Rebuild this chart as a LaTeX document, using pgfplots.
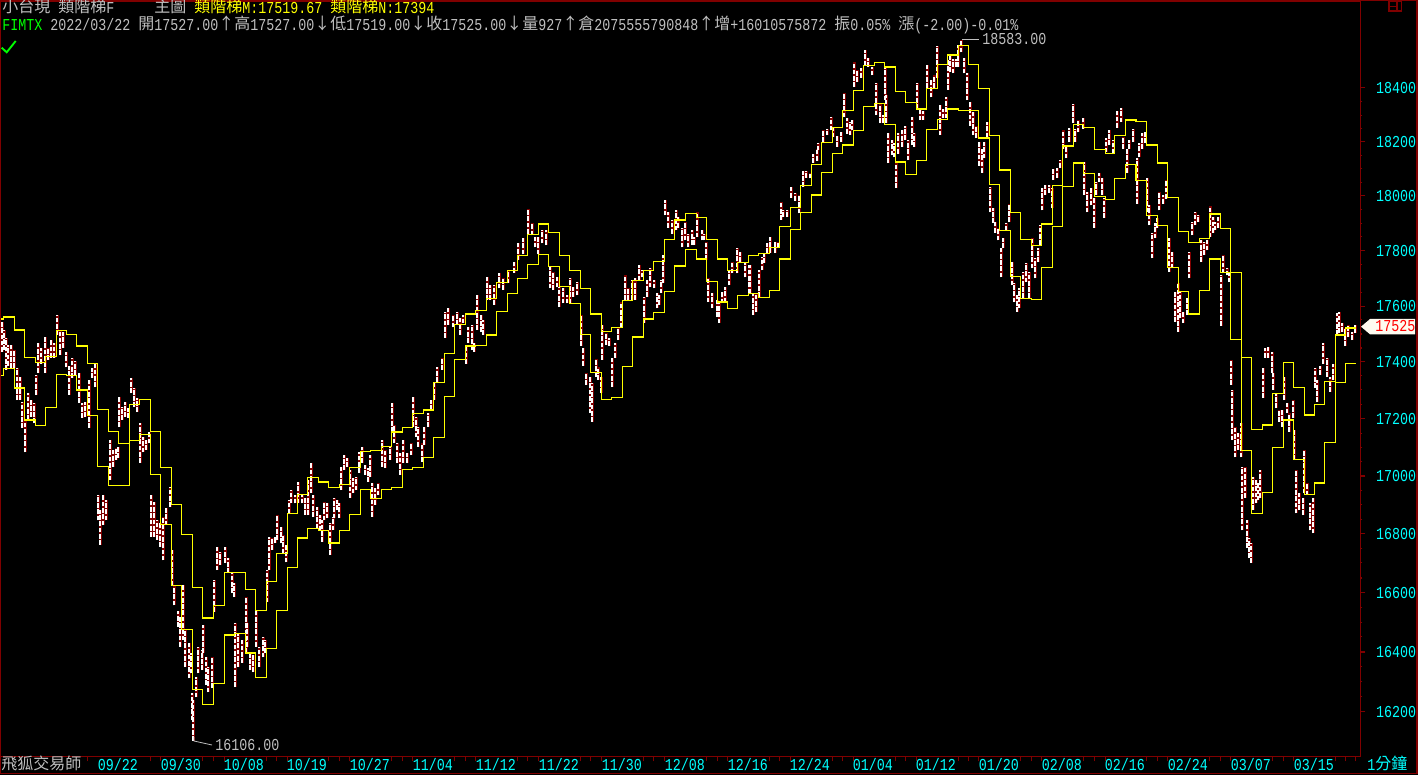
\documentclass[border=0pt]{standalone}
\usepackage{fontspec}
\usepackage{pgfplots}
\usepackage{pgfplotstable}
\pgfplotsset{compat=1.18}
\newfontfamily\pxmono[FakeStretch=0.8]{Liberation Mono}
\newfontfamily\cjk{Noto Sans CJK TC}
\definecolor{dkred}{RGB}{128,0,0}
\definecolor{txtgray}{RGB}{192,192,192}
\definecolor{tagfill}{RGB}{255,251,240}
\definecolor{cyan}{RGB}{0,255,255}
\definecolor{yellow}{RGB}{255,255,0}
\definecolor{green}{RGB}{0,255,0}
\definecolor{red}{RGB}{255,0,0}
\newcommand{\latinfont}{\pxmono\fontsize{12.5pt}{13pt}\selectfont}
\newcommand{\cjkfont}{\cjk\fontsize{12pt}{13pt}\selectfont}

% stair lines: x position, M, N
\pgfplotstableread{
x m n
1 17552 17352
3.5 17559 17377
14.5 17516 17307
24.5 17416 17194
35.5 17398 17176
45.5 17419 17239
56.5 17512 17356
66.5 17498 17352
76.5 17456 17300
87.5 17394 17211
97.5 17232 17033
108.5 17155 16967
118.5 17113 16967
129.5 17250 17124
139.5 17267 17145
150.5 17155 17005
160.3 17029 16832
171.3 16901 16624
181.7 16798 16476
192.3 16617 16275
202.3 16513 16225
213.3 16556 16295
224.3 16668 16456
234.3 16668 16462
245.3 16610 16395
255.7 16540 16315
266.3 16638 16412
276.3 16733 16540
287.3 16870 16685
297.3 16936 16785
307.3 16994 16819
318.3 16980 16812
328.3 16960 16768
339.3 16970 16812
349.3 17029 16867
360.3 17085 16953
370.3 17089 16922
381.3 17103 16953
391.3 17152 16960
402.3 17169 17022
412.3 17218 17029
423.3 17229 17064
433.3 17328 17134
444.3 17430 17278
454.3 17534 17408
465.3 17570 17456
475.3 17584 17459
486.3 17627 17495
496.3 17685 17580
507.3 17728 17645
517.3 17782 17699
527.3 17859 17749
538.3 17899 17786
548.3 17866 17742
559.3 17782 17670
569.3 17728 17609
580.3 17663 17498
590.3 17570 17363
601.3 17509 17267
611.3 17523 17274
622.3 17620 17384
632.3 17692 17488
643.3 17728 17552
653.3 17760 17577
664.3 17841 17652
674.3 17910 17746
685.3 17935 17804
696.3 17921 17771
706.3 17841 17688
717.3 17771 17613
727.3 17728 17591
737.3 17757 17638
748.3 17782 17645
758.3 17789 17631
769.3 17811 17656
779.3 17888 17771
790.3 17957 17877
800.3 18039 17939
811.3 18115 18005
821.3 18197 18086
832.3 18253 18156
842.3 18316 18190
853.3 18391 18242
863.3 18485 18331
874.3 18496 18343
884.3 18481 18264
895.3 18388 18126
905.3 18346 18079
916.3 18324 18130
926.3 18399 18245
937.3 18489 18283
947.3 18527 18324
958.3 18561 18316
968.3 18489 18316
978.3 18399 18212
989.3 18223 18042
999.3 18097 17873
1010.3 17939 17706
1020.3 17841 17627
1031.3 17819 17623
1041.3 17899 17739
1052.3 18039 17888
1062.3 18186 18035
1073.3 18264 18122
1083.3 18253 18082
1094.3 18172 17998
1105.3 18156 17987
1114.3 18223 18064
1125.3 18279 18115
1136 18275 18056
1146.3 18190 17928
1157.3 18122 17892
1167.3 17994 17739
1178.3 17870 17652
1188.3 17830 17570
1199.3 17844 17656
1209.3 17932 17771
1220.3 17881 17721
1230.3 17721 17480
1241.3 17416 17089
1251.3 17163 16870
1262.3 17177 16943
1272.3 17288 17099
1283.3 17398 17194
1293.3 17310 17057
1304.3 17212 16936
1314.3 17250 16974
1324.3 17331 17117
1335.3 17495 17328
1345.3 17520 17394
1355.7 17520 17394
}\stairs

% price ranges: x position, low, high
\pgfplotstableread{
x lo hi
2 17435 17542
4 17442 17513
6 17371 17485
8 17388 17460
11 17378 17460
14 17378 17442
17 17265 17378
20 17265 17346
22 17167 17258
25 17083 17195
28 17195 17290
31 17205 17265
34 17185 17255
36 17283 17353
38 17363 17467
41 17395 17449
45 17360 17488
48 17406 17449
51 17416 17478
54 17416 17467
57 17495 17567
60 17424 17513
63 17449 17506
66 17381 17435
69 17283 17388
72 17343 17416
75 17353 17406
79 17255 17360
82 17202 17255
85 17205 17258
89 17167 17336
92 17343 17378
95 17311 17395
98 16847 16933
100 16762 16881
103 16830 16933
106 16847 16916
110 16985 17125
113 17030 17090
116 17055 17097
118 17062 17101
119 17170 17275
122 17195 17240
125 17205 17258
128 17202 17237
131 17290 17343
134 17240 17308
137 17223 17272
140 17045 17185
143 17083 17135
146 17090 17125
149 17114 17153
151 16789 16933
154 16789 16909
157 16779 16847
160 16755 16837
163 16710 16857
166 16830 16888
170 16892 16961
172 16625 16745
174 16557 16625
178 16484 16540
180 16417 16517
183 16440 16625
185 16350 16473
189 16313 16430
191 16329 16396
192 16173 16262
193 16106 16239
196 16249 16316
198 16329 16417
202 16340 16407
203 16396 16490
206 16290 16383
208 16266 16350
212 16280 16383
214 16534 16642
217 16676 16755
220 16693 16738
225 16700 16755
228 16666 16717
232 16598 16666
234 16584 16632
235 16283 16497
238 16350 16463
242 16363 16440
246 16396 16584
247 16417 16497
250 16340 16396
253 16333 16390
256 16417 16540
259 16350 16417
263 16383 16450
265 16396 16440
267 16567 16676
269 16676 16789
272 16745 16785
275 16768 16789
277 16779 16864
281 16768 16823
283 16733 16796
286 16703 16762
289 16870 16916
291 16905 16950
295 16905 16933
298 16905 16978
302 16905 16933
305 16864 16926
308 16864 16985
311 16940 17045
313 16857 16933
317 16819 16892
320 16812 16864
322 16772 16847
324 16847 16909
327 16854 16905
330 16727 16837
333 16812 16857
334 16854 16926
337 16881 16916
339 16854 16905
341 16950 17030
344 17020 17072
347 17030 17062
350 16926 17020
353 16940 16992
356 16950 16996
359 17010 17083
362 17045 17101
365 17003 17038
368 16978 17027
370 16996 17072
372 16857 16974
375 16899 16957
378 16933 16974
382 17030 17125
385 17027 17090
390 17055 17101
392 17153 17255
394 17114 17177
397 17045 17114
400 17003 17079
403 17045 17125
407 17045 17079
411 17072 17114
413 17170 17275
416 17135 17205
418 17101 17170
422 17048 17114
424 17108 17170
428 17170 17219
431 17230 17265
434 17265 17325
437 17329 17381
442 17371 17416
445 17485 17578
448 17531 17592
453 17524 17567
457 17531 17578
460 17495 17556
463 17538 17567
466 17395 17453
468 17467 17524
472 17442 17531
474 17435 17467
477 17513 17639
481 17506 17567
483 17495 17549
487 17621 17704
490 17621 17675
494 17603 17675
499 17664 17718
503 17657 17700
508 17682 17729
514 17721 17758
518 17765 17827
523 17786 17845
528 17863 17951
532 17856 17900
535 17812 17849
538 17786 17849
542 17827 17874
546 17820 17874
550 17664 17740
553 17657 17722
557 17668 17704
559 17596 17668
563 17610 17664
567 17610 17639
570 17610 17700
573 17632 17668
577 17639 17686
581 17456 17567
583 17388 17449
586 17318 17360
590 17219 17346
592 17188 17325
596 17346 17413
598 17336 17381
601 17290 17346
602 17406 17531
606 17460 17503
609 17456 17485
612 17311 17413
615 17416 17467
618 17478 17520
621 17524 17614
625 17621 17711
628 17621 17664
632 17621 17693
635 17621 17700
639 17693 17747
642 17704 17729
644 17538 17632
647 17632 17693
650 17668 17736
654 17664 17693
657 17592 17646
659 17603 17639
661 17646 17693
663 17682 17783
665 17929 17984
668 17885 17940
672 17863 17911
676 17874 17947
678 17885 17922
682 17812 17885
685 17838 17904
688 17812 17863
692 17820 17874
694 17820 17849
697 17849 17940
702 17838 17874
704 17838 17863
706 17765 17830
708 17614 17700
712 17592 17646
717 17560 17621
719 17538 17610
722 17610 17650
725 17614 17668
729 17675 17729
732 17718 17758
737 17718 17809
740 17758 17794
745 17704 17754
749 17646 17747
750 17646 17747
753 17567 17646
756 17578 17646
759 17632 17729
762 17729 17776
764 17754 17790
767 17790 17827
770 17790 17849
775 17790 17830
778 17809 17830
781 17911 17976
783 17922 17947
787 17922 17947
791 17994 18032
795 17984 18010
799 17936 18003
803 18032 18094
806 18068 18094
810 18065 18086
813 18122 18156
817 18130 18175
818 18168 18195
823 18198 18243
827 18224 18250
831 18243 18291
833 18217 18254
837 18180 18224
841 18198 18235
844 18291 18385
847 18231 18287
850 18224 18272
852 18243 18280
854 18404 18498
857 18423 18468
861 18441 18475
865 18486 18546
868 18479 18516
872 18449 18479
876 18299 18419
880 18269 18344
883 18269 18299
885 18355 18475
886 18269 18374
888 18120 18232
892 18150 18206
894 18142 18195
896 18029 18120
898 18156 18232
902 18180 18243
905 18206 18261
908 18131 18206
912 18187 18291
914 18180 18232
917 18324 18419
920 18280 18324
923 18280 18316
927 18400 18486
931 18366 18430
934 18400 18449
937 18441 18562
940 18224 18336
943 18287 18324
946 18287 18366
948 18393 18505
950 18460 18524
953 18456 18512
956 18479 18512
958 18479 18562
961 18535 18583
964 18456 18516
967 18355 18456
970 18261 18347
973 18224 18310
976 18213 18261
979 18112 18198
982 18086 18175
984 18138 18198
987 18217 18272
990 17940 18032
993 17900 17954
995 17867 17904
998 17838 17882
1001 17704 17809
1003 17809 17845
1006 17874 17900
1009 17904 17973
1012 17675 17758
1014 17614 17682
1017 17578 17639
1019 17592 17664
1023 17628 17722
1026 17686 17754
1029 17628 17722
1032 17736 17845
1035 17700 17772
1038 17758 17809
1040 17820 17892
1042 17947 18029
1045 18003 18039
1049 18010 18039
1052 17954 18029
1053 18058 18101
1057 18068 18105
1060 18105 18131
1063 18175 18243
1066 18138 18187
1069 18198 18254
1073 18269 18340
1075 18198 18250
1078 18235 18280
1083 18250 18287
1084 18003 18123
1087 17940 18014
1091 17965 18029
1094 17882 17992
1096 18003 18050
1099 18050 18086
1102 18003 18065
1104 17918 17992
1106 18160 18213
1109 18187 18243
1113 18156 18206
1117 18254 18316
1121 18272 18328
1123 18175 18217
1127 18086 18175
1129 18175 18206
1133 18198 18250
1137 17973 18138
1139 18142 18195
1142 18175 18232
1145 18195 18235
1147 17940 18065
1149 17892 17965
1152 17772 17867
1155 17845 17900
1157 17882 17918
1159 17947 18014
1163 17973 18003
1166 17991 18058
1169 17722 17845
1172 17736 17794
1175 17542 17650
1178 17506 17682
1180 17556 17650
1183 17538 17578
1187 17567 17628
1189 17700 17794
1192 17856 17904
1195 17892 17940
1198 17904 17929
1201 17758 17838
1204 17783 17830
1207 17801 17838
1210 17849 17962
1213 17867 17922
1215 17874 17904
1218 17885 17922
1221 17527 17711
1223 17718 17783
1227 17711 17736
1229 17686 17718
1231 17318 17406
1232 17125 17301
1235 17065 17170
1238 17090 17150
1241 17065 17185
1242 16812 17030
1245 16926 17030
1247 16751 16847
1249 16717 16785
1251 16700 16768
1253 16881 16996
1256 16905 16985
1258 16916 16975
1260 16926 17020
1263 17272 17381
1265 17416 17449
1268 17416 17453
1272 17360 17435
1273 17300 17360
1276 17237 17290
1279 17188 17230
1282 17170 17230
1284 17265 17346
1287 17219 17255
1289 17153 17219
1293 17202 17265
1294 17055 17160
1296 16870 17020
1299 16881 16940
1303 16864 16926
1304 16940 17090
1307 16933 16974
1310 16812 16905
1313 16802 16923
1315 17308 17381
1317 17258 17336
1320 17353 17388
1323 17395 17467
1327 17346 17416
1330 17294 17346
1333 17336 17395
1337 17495 17574
1339 17503 17578
1342 17506 17538
1345 17456 17520
1348 17488 17531
1352 17478 17506
1355 17503 17531
}\candles

\begin{document}
\begin{tikzpicture}
\useasboundingbox (0,0) rectangle (1063.5pt,581.25pt);
\fill[black] (0,0) rectangle (1063.5pt,581.25pt);
% the log axis runs in units of 10000 points: a narrow log range at full scale overflows otherwise
\begin{axis}[
    at={(0pt,13.7pt)},
    anchor=south west,
    scale only axis,
    width=1020.2pt,
    height=566.8pt,
    xmin=0, xmax=1360.3,
    ymode=log,
    ymin=1.6053, ymax=1.8730,
    axis line style={dkred,line width=1.1pt},
    tick align=outside,
    major tick length=3.75pt,
    minor tick length=1.5pt,
    tick style={dkred,line width=0.8pt},
    ytick pos=right,
    yticklabel pos=right,
    xtick pos=bottom,
    ytick={1.62,1.64,1.66,1.68,1.70,1.72,1.74,1.76,1.78,1.80,1.82,1.84},
    yticklabels={16200,16400,16600,16800,17000,17200,17400,17600,17800,18000,18200,18400},
    minor ytick={1.625,1.63,1.635,1.645,1.65,1.655,1.665,1.67,1.675,1.685,1.69,1.695,1.705,1.71,1.715,1.725,1.73,1.735,1.745,1.75,1.755,1.765,1.77,1.775,1.785,1.79,1.795,1.805,1.81,1.815,1.825,1.83,1.835},
    yticklabel style={anchor=west,inner sep=0pt,xshift=8pt,text=cyan,font=\latinfont},
    xtick={118,181,244,307,370,433,496,559,622,685,748,810,873,936,999,1062,1125,1188,1251,1314},
    xticklabels={09/22,09/30,10/08,10/19,10/27,11/04,11/12,11/22,11/30,12/08,12/16,12/24,01/04,01/12,01/20,02/08,02/16,02/24,03/07,03/15},
    xticklabel style={anchor=base,inner sep=0pt,yshift=-7pt,text=cyan,font=\latinfont},
    major x tick style={draw=none},
    extra x ticks={87.5,150.5,160.3,202.3,213.3,224.3,266.3,276.3,287.3,328.3,339.3,349.3,391.3,402.3,412.3,454.3,465.3,475.3,517.3,527.3,538.3,580.3,590.3,601.3,643.3,653.3,664.3,706.3,717.3,727.3,769.3,779.3,790.3,832.3,842.3,853.3,895.3,905.3,916.3,958.3,968.3,978.3,1020.3,1031.3,1041.3,1083.3,1094.3,1105.3,1146.3,1157.3,1167.3,1209.3,1220.3,1230.3,1272.3,1283.3,1293.3,1335.3,1345.3,1355.7},
    extra x tick labels={},
    extra x tick style={major x tick style={draw=dkred}},
]
\addplot[draw=none,forget plot,error bars/.cd,y dir=plus,y explicit,error mark=none,
    error bar style={dkred,line width=1.6pt}]
    table[x expr=\thisrow{x}+0.5,y expr=\thisrow{lo}/10000,y error expr=(\thisrow{hi}-\thisrow{lo})/10000] {\candles};
\addplot[draw=none,forget plot,error bars/.cd,y dir=plus,y explicit,error mark=none,
    error bar style={white,line width=0.8pt,dash pattern=on 3.5pt off 1.2pt}]
    table[x=x,y expr=\thisrow{lo}/10000,y error expr=(\thisrow{hi}-\thisrow{lo})/10000] {\candles};
\addplot[const plot,yellow,line width=1.05pt] table[x=x,y expr=\thisrow{m}/10000] {\stairs};
\addplot[const plot,yellow,line width=1.05pt] table[x=x,y expr=\thisrow{n}/10000] {\stairs};
\end{axis}
% everything below is placed in reference pixels, y going down
\begin{scope}[shift={(0pt,581.25pt)},x=0.75pt,y=-0.75pt]
\newcommand{\lat}[4]{\node[anchor=base west,inner sep=0pt,text=#4,font=\latinfont] at (#1,#2) {#3};}
\newcommand{\han}[4]{\node[anchor=base west,inner sep=0pt,text=#4,font=\cjkfont] at (#1,#2-1) {#3};}
% outer frame and the small window icon
\draw[dkred,line width=1.1pt] (0.7,0.7) rectangle (1416.8,773.4);
\draw[dkred,line width=0.8pt] (1389,1) rectangle (1401.7,11) (1397,1) -- (1397,11) (1389,6.5) -- (1397,6.5);
% first header line
\han{2}{14}{小台現}{txtgray}
\han{58}{14}{類階梯}{txtgray}
\lat{106}{14}{F}{txtgray}
\han{154}{14}{主圖}{txtgray}
\han{194}{14}{類階梯}{yellow}
\lat{242}{14}{M:17519.67}{yellow}
\han{330}{14}{類階梯}{yellow}
\lat{378}{14}{N:17394}{yellow}
% second header line
\lat{2}{31}{FIMTX}{green}
\lat{50}{31}{2022/03/22}{txtgray}
\han{138}{31}{開}{txtgray}
\lat{154}{31}{17527.00}{txtgray}
\han{218}{31}{↑}{txtgray}
\han{234}{31}{高}{txtgray}
\lat{250}{31}{17527.00}{txtgray}
\han{314}{31}{↓}{txtgray}
\han{330}{31}{低}{txtgray}
\lat{346}{31}{17519.00}{txtgray}
\han{410}{31}{↓}{txtgray}
\han{426}{31}{收}{txtgray}
\lat{442}{31}{17525.00}{txtgray}
\han{506}{31}{↓}{txtgray}
\han{522}{31}{量}{txtgray}
\lat{538}{31}{927}{txtgray}
\han{562}{31}{↑}{txtgray}
\han{578}{31}{倉}{txtgray}
\lat{594}{31}{2075555790848}{txtgray}
\han{698}{31}{↑}{txtgray}
\han{714}{31}{增}{txtgray}
\lat{730}{31}{+16010575872}{txtgray}
\han{834}{31}{振}{txtgray}
\lat{850}{31}{0.05\%}{txtgray}
\han{898}{31}{漲}{txtgray}
\lat{914}{31}{(-2.00)-0.01\%}{txtgray}
% check mark
\draw[green,line width=1.4pt] (1.7,47.7) -- (6.7,52.3) -- (15.7,41);
% high and low notes
\draw[txtgray,line width=0.6pt] (962,39.3) -- (979,39.3);
\lat{982}{45}{18583.00}{txtgray}
\draw[txtgray,line width=0.6pt] (194,737) -- (194,741) -- (212,745);
\lat{215}{751}{16106.00}{txtgray}
% last price tag
\fill[tagfill] (1361,326.7) -- (1370,319) -- (1415,319) -- (1415,334.3) -- (1370,334.3) -- cycle;
\lat{1375}{332}{17525}{red}
% corner captions
\han{1}{771}{飛狐交易師}{txtgray}
\lat{1367}{771}{1}{cyan}
\han{1375}{771}{分鐘}{cyan}
\end{scope}
\end{tikzpicture}
\end{document}
